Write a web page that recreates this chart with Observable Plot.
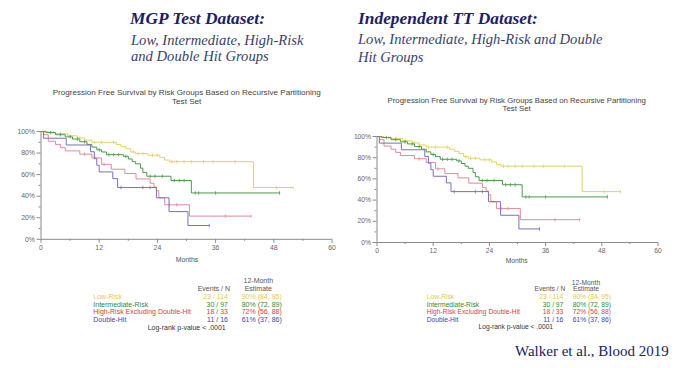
<!DOCTYPE html>
<html><head><meta charset="utf-8">
<script src="https://cdn.jsdelivr.net/npm/d3@7"></script>
<script src="https://cdn.jsdelivr.net/npm/@observablehq/plot@0.6"></script>
<style>
body{margin:0;background:#fff;}
#root{position:relative;width:680px;height:368px;overflow:hidden;background:#fff;font-family:"Liberation Sans",Arial,sans-serif;}
.t{position:absolute;white-space:nowrap;line-height:1;}
.chart{position:absolute;}
</style>
</head><body>
<div id="root"></div>
<script>
// ---------- data ----------
const groups = ["Low-Risk", "Intermediate-Risk", "High-Risk Excluding Double-Hit", "Double-Hit"];
const eventsN = ["23 / 114", "30 / 97", "18 / 33", "11 / 16"];
const estimates = ["90% (84, 95)", "80% (72, 89)", "72% (56, 88)", "61% (37, 86)"];

const lowTimes = [0, 1.5, 3, 5.5, 7.5, 9, 10.5, 15.5, 16.5, 17.5, 18.5, 19.5, 22, 24.5, 25.5, 26.5, 43.8];
const lowSurv  = [100, 99, 98, 96, 94, 92, 90, 88, 86, 84, 81, 79.5, 78, 76, 73.5, 72, 48];
const lowEnd = 52;
const lowCens = [2.5, 4, 6, 8, 11, 12.5, 15, 19, 20, 21, 23, 24, 27, 28, 29.5, 31, 33.5, 35.5, 40, 48.5, 52];

const intTimes = [0, 1, 3, 5, 6.5, 8, 9.5, 10.5, 11.5, 12.5, 13.5, 17, 18, 18.8, 19.5, 20.5, 21, 21.8, 26.8, 31];
const intSurv  = [100, 99, 97, 95, 93, 90.5, 88, 85.5, 83, 81, 78.5, 77, 74.5, 72, 70, 66, 62, 58.5, 54.5, 43];
const intEnd = 49.2;
const intCens = [2, 4, 6, 7.5, 9, 12, 14, 15, 16, 17.5, 22.5, 23.5, 25, 27.5, 28.5, 29.5, 31.8, 32.5, 36, 49.2];

const hrTimes = [0, 0.6, 1.5, 3, 4, 5, 8, 10.5, 12.5, 14.5, 17.3, 19.6, 22.5, 23.3, 23.8, 24.3, 25.5, 30.6];
const hrSurv  = [100, 97, 91, 88, 85, 82, 79, 75.5, 69.5, 65, 61, 56, 52, 48.5, 45, 38.5, 32, 21.5];
const hrEnd = 43.3;
const hrCens = [9, 11, 13, 26.5, 28, 38, 43.3];

const dhTimes = [0, 0.5, 5.2, 10.2, 11, 11.5, 12, 14.8, 15.8, 23.8, 26.4, 30.3];
const dhSurv  = [100, 93.75, 87.5, 81.25, 75, 68.75, 62.5, 56.25, 48, 38.5, 25.7, 12.8];
const dhEnd = 34.7;
const dhCens = [16.5, 21, 22.5, 34.7];

const xTicks = [0, 12, 24, 36, 48, 60];
const xMinor = [6, 18, 30, 42, 54];
const yTicks = [0, 20, 40, 60, 80, 100];
const yMinor = [10, 30, 50, 70, 90];

const lineColors = ["#e2d35e", "#4b9a4b", "#e38a98", "#7a70bb"];
const textColors = ["#e8c84a", "#2f8a36", "#e23c3c", "#3c45b0"];

// ---------- build ----------
const series = [
  {times: lowTimes, surv: lowSurv, end: lowEnd, cens: lowCens},
  {times: intTimes, surv: intSurv, end: intEnd, cens: intCens},
  {times: hrTimes, surv: hrSurv, end: hrEnd, cens: hrCens},
  {times: dhTimes, surv: dhSurv, end: dhEnd, cens: dhCens}
];
function survAt(sr, t) { let s = sr.surv[0]; for (let i = 0; i < sr.times.length; i++) if (sr.times[i] <= t) s = sr.surv[i]; return s; }
const tickSym = {draw(ctx, size) { const r = Math.sqrt(size) / 2; ctx.moveTo(0, -r); ctx.lineTo(0, r); }};

function makeChart(w, h, ml, mr, mt, mb, fs) {
  const marks = [
    Plot.ruleX([0], {stroke: "#8a8a8a"}),
    Plot.ruleY([0], {stroke: "#8a8a8a"}),
    Plot.axisX({ticks: xTicks, tickSize: 4, tickPadding: 2, fontSize: fs, color: "#666", stroke: "#8a8a8a", label: null}),
    Plot.axisX({ticks: xMinor, tickSize: 2, tickFormat: () => "", stroke: "#8a8a8a", label: null}),
    Plot.axisY({ticks: yTicks, tickSize: 4, tickPadding: 2, fontSize: fs, color: "#666", stroke: "#8a8a8a", tickFormat: d => d + "%", label: null}),
    Plot.axisY({ticks: yMinor, tickSize: 2, tickFormat: () => "", stroke: "#8a8a8a", label: null})
  ];
  series.forEach((sr, i) => {
    const pts = sr.times.map((t, j) => ({t, s: sr.surv[j]}));
    pts.push({t: sr.end, s: sr.surv[sr.surv.length - 1]});
    marks.push(Plot.line(pts, {x: "t", y: "s", curve: "step-after", stroke: lineColors[i], strokeWidth: 1}));
    const cd = sr.cens.map(t => ({t, s: survAt(sr, t)}));
    marks.push(Plot.dot(cd, {x: "t", y: "s", symbol: tickSym, r: 2, fill: "none", stroke: lineColors[i], strokeWidth: 0.8}));
  });
  return Plot.plot({
    width: w, height: h, marginLeft: ml, marginRight: mr, marginTop: mt, marginBottom: mb,
    x: {domain: [0, 60]}, y: {domain: [0, 100]},
    style: {fontFamily: "Liberation Sans, Arial, sans-serif", background: "transparent", overflow: "visible"},
    marks
  });
}

const root = document.getElementById("root");
function txt(s, x, baseline, fs, opts = {}) {
  const d = document.createElement("div");
  d.className = "t";
  d.textContent = s;
  d.style.fontSize = fs + "px";
  d.style.left = x + "px";
  d.style.top = (baseline - 0.846 * fs) + "px";
  if (opts.anchor === "middle") d.style.transform = "translateX(-50%)";
  if (opts.anchor === "end") d.style.transform = "translateX(-100%)";
  d.style.color = opts.color || "#444";
  if (opts.family) d.style.fontFamily = opts.family;
  if (opts.bold) d.style.fontWeight = "bold";
  if (opts.italic) d.style.fontStyle = "italic";
  root.appendChild(d);
}
function place(svg, x, y) { const d = document.createElement("div"); d.className = "chart"; d.style.left = x + "px"; d.style.top = y + "px"; d.appendChild(svg); root.appendChild(d); }

// Headings
const serif = "'Liberation Serif', 'Times New Roman', serif";
txt("MGP Test Dataset:", 130, 25, 17.4, {family: serif, bold: true, italic: true, color: "#1b2163"});
txt("Low, Intermediate, High-Risk", 131, 45, 14.6, {family: serif, italic: true, color: "#3a3f6e"});
txt("and Double Hit Groups", 131, 61.5, 14.6, {family: serif, italic: true, color: "#3a3f6e"});
txt("Independent TT Dataset:", 358, 25, 17.4, {family: serif, bold: true, italic: true, color: "#1b2163"});
txt("Low, Intermediate, High-Risk and Double", 358, 44, 14.6, {family: serif, italic: true, color: "#3a3f6e"});
txt("Hit Groups", 358, 62.5, 14.6, {family: serif, italic: true, color: "#3a3f6e"});

// Panels
const panels = [
  {svg: [340, 150, 40.5, 8.5, 11, 31.2], pos: [0, 120], fs: 6.9, title: [186.7, 96, 104.4], titleFs: 8.1,
   months: [187, 262.5], leg: {fs: 7, lab: 93.3, ev: 228, est: 241.7, hdr: 258.3, y1: 283.2, y2: 290.8, rows: [299.2, 306.5, 314.2, 321.8], lr: [186.7, 329.5]}},
  {svg: [330, 150, 41.5, 7.5, 12, 32], pos: [335, 124], fs: 6.7, title: [516.7, 103.4, 112], titleFs: 7.8,
   months: [516.7, 263.2], leg: {fs: 6.7, lab: 426.7, ev: 563.3, est: 572.7, hdr: 586, y1: 285.6, y2: 291.6, rows: [300, 307.3, 314.6, 322.2], lr: [515.8, 329.6]}}
];
panels.forEach(p => {
  const [w, h, ml, mr, mt, mb] = p.svg;
  place(makeChart(w, h, ml, mr, mt, mb, p.fs), p.pos[0], p.pos[1]);
  txt("Progression Free Survival by Risk Groups Based on Recursive Partitioning", p.title[0], p.title[1], p.titleFs, {anchor: "middle", color: "#444"});
  txt("Test Set", p.title[0], p.title[2], p.titleFs, {anchor: "middle", color: "#444"});
  txt("Months", p.months[0], p.months[1], p.fs, {anchor: "middle", color: "#555"});
  const L = p.leg;
  txt("12-Month", L.hdr, L.y1, L.fs, {anchor: "middle", color: "#555"});
  txt("Estimate", L.hdr, L.y2, L.fs, {anchor: "middle", color: "#555"});
  txt("Events / N", L.ev + 2, L.y2, L.fs, {anchor: "end", color: "#555"});
  groups.forEach((g, i) => {
    txt(g, L.lab, L.rows[i], L.fs, {color: textColors[i]});
    txt(eventsN[i], L.ev, L.rows[i], L.fs, {anchor: "end", color: textColors[i]});
    txt(estimates[i], L.est, L.rows[i], L.fs, {color: textColors[i]});
  });
  txt("Log-rank p-value < .0001", L.lr[0], L.lr[1], L.fs, {anchor: "middle", color: "#333"});
});

txt("Walker et al., Blood 2019", 515, 357, 15, {family: serif, color: "#1b2163"});
</script>
</body></html>
